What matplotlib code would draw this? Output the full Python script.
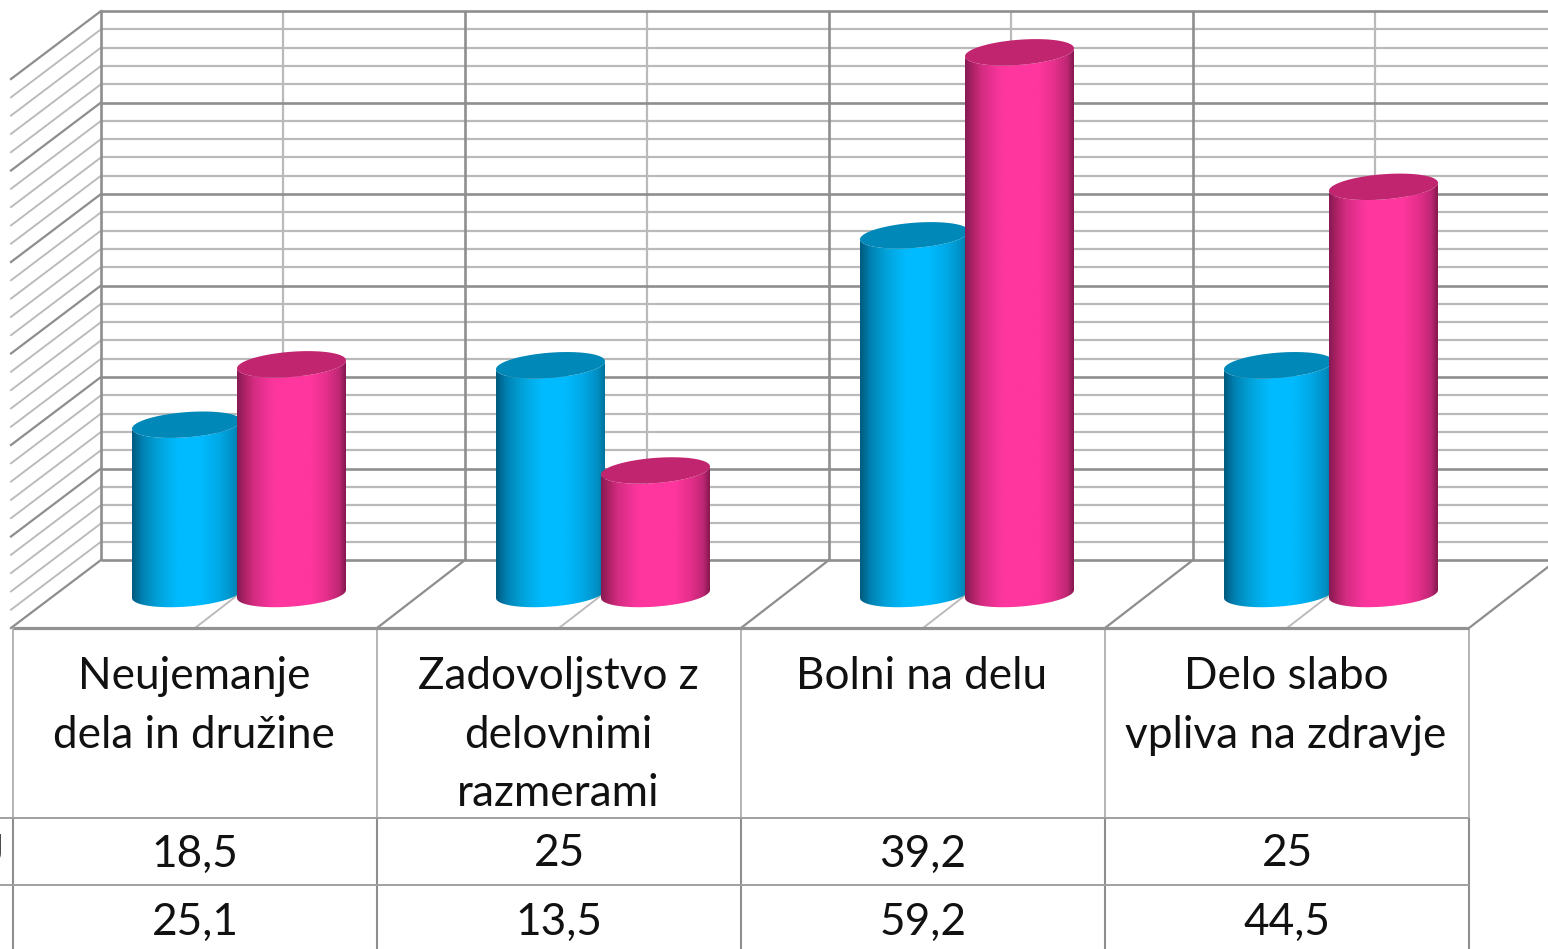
import numpy as np
import matplotlib
matplotlib.use("Agg")
import matplotlib.pyplot as plt
from matplotlib.patches import Polygon
from matplotlib.colors import LinearSegmentedColormap
from matplotlib.transforms import blended_transform_factory

# ---- data ----
categories = ["Neujemanje\ndela in družine", "Zadovoljstvo z\ndelovnimi\nrazmerami",
              "Bolni na delu", "Delo slabo\nvpliva na zdravje"]
series_blue = [18.5, 25, 39.2, 25]
series_pink = [25.1, 13.5, 59.2, 44.5]
labels_blue = ["18,5", "25", "39,2", "25"]
labels_pink = ["25,1", "13,5", "59,2", "44,5"]
value_max = 60

# ---- layout ----
W, H = 1548, 949
CAT = 364.0          # px per category
UNIT = 9.15          # px per value unit
X0 = 195.0           # px of first category centre (front plane)
Y0 = 628.0           # px of value 0 (front plane)
DX, DY = 88.0, 68.0  # depth offset in px
GRID_MAJOR, GRID_MINOR = "#8e8e8e", "#bababa"

plt.rcParams["font.family"] = ["Lato", "DejaVu Sans"]
fig = plt.figure(figsize=(W / 100, H / 100), dpi=100, facecolor="white")
ax = fig.add_axes([0, 0, 1, 1])
xlim = ((0 - X0) / CAT, (W - X0) / CAT)
ylim = ((Y0 - H) / UNIT, Y0 / UNIT)
ax.set_axis_off()

ddx, ddy = DX / CAT, DY / UNIT   # full depth in data units
n = len(categories)
fy = lambda py: 1 - py / H
ytr = blended_transform_factory(ax.transData, ax.transAxes)

# back wall horizontals and side wall diagonals
side_x = -0.5 - 2 / CAT
for v in range(0, value_max + 1, 2):
    major = v % 10 == 0
    col, lw = (GRID_MAJOR, 1.9) if major else (GRID_MINOR, 1.6)
    z = 3 if major else 2
    ax.plot([-0.5 + ddx, xlim[1]], [v + ddy, v + ddy], color=col, lw=lw, zorder=z, solid_capstyle="butt")
    ax.plot([side_x, -0.5 + ddx], [v, v + ddy], color=col, lw=lw * 0.85, zorder=z)

# back wall verticals and floor diagonals
for k in range(0, 2 * n + 1):
    xf = -0.5 + k * 0.5
    major = k % 2 == 0
    col, lw = (GRID_MAJOR, 1.9) if major else (GRID_MINOR, 1.6)
    z = 3 if major else 2
    ax.plot([xf + ddx, xf + ddx], [ddy, value_max + ddy], color=col, lw=lw, zorder=z, solid_capstyle="butt")
    if k > 0:
        ax.plot([xf, xf + ddx], [0, ddy], color=col, lw=lw * 0.85, zorder=z)

# cylinders
blue_cmap = LinearSegmentedColormap.from_list("b", [
    (0.00, "#005a7e"), (0.10, "#0083b4"), (0.25, "#00a4dc"), (0.42, "#00bbff"),
    (0.62, "#00bbff"), (0.80, "#00a8e6"), (0.93, "#008fc4"), (1.00, "#00729c")])
pink_cmap = LinearSegmentedColormap.from_list("p", [
    (0.00, "#861a54"), (0.07, "#ad2265"), (0.15, "#d22c80"), (0.30, "#f5349a"),
    (0.36, "#ff369e"), (0.68, "#ff369e"), (0.82, "#e62f8c"), (0.94, "#bd2773"), (1.00, "#85184f")])
blue_top, pink_top = "#0088b8", "#c12570"

half_w = 54.5 / CAT       # cylinder half width
tilt = 4.0 / UNIT         # ellipse tilt
rad = 12.6 / UNIT         # ellipse minor radius
grad = np.linspace(0, 1, 256).reshape(1, -1)


def cylinder(cx, value, cmap, topcol, z):
    base = ddy / 2
    top = base + value
    t_low = np.linspace(np.pi, 2 * np.pi, 80)
    t_full = np.linspace(0, 2 * np.pi, 160)
    ex = lambda t: cx + half_w * np.cos(t)
    ey = lambda t, c: c + tilt * np.cos(t) + rad * np.sin(t)
    body = np.vstack([
        np.c_[ex(t_low), ey(t_low, base)],
        np.c_[ex(t_low[::-1]), ey(t_low[::-1], top)],
    ])
    patch = Polygon(body, closed=True, transform=ax.transData, facecolor="none", edgecolor="none")
    ax.add_patch(patch)
    im = ax.imshow(grad, cmap=cmap, extent=[cx - half_w, cx + half_w, base - 3, top + 3],
                   aspect="auto", zorder=z, interpolation="bilinear")
    im.set_clip_path(patch)
    ax.add_patch(Polygon(np.c_[ex(t_full), ey(t_full, top)], closed=True, facecolor=topcol,
                         edgecolor="none", zorder=z + 0.1))


off = 52.5 / CAT
for i in range(n):
    cx = i + ddx / 2
    cylinder(cx - off, series_blue[i], blue_cmap, blue_top, 5 + i)
    cylinder(cx + off, series_pink[i], pink_cmap, pink_top, 5.5 + i)

ax.set_xlim(xlim)
ax.set_ylim(ylim)

# table frame
ax.plot([-0.5, n - 0.5], [0, 0], color="#929292", lw=2.3, zorder=20, solid_capstyle="butt")
for i in range(n + 1):
    ax.plot([i - 0.5, i - 0.5], [fy(628), fy(818)], transform=ytr, color="#a8a8a8", lw=1.2, zorder=4,
            solid_capstyle="butt")
    ax.plot([i - 0.5, i - 0.5], [fy(818), 0], transform=ytr, color="#8e8e8e", lw=1.5, zorder=4,
            solid_capstyle="butt")
for py in (818, 885):
    ax.plot([xlim[0], n - 0.5], [fy(py), fy(py)], transform=ytr, color="#a0a0a0", lw=1.4, zorder=4,
            solid_capstyle="butt")

# table text
FS = 31.8
for i, c in enumerate(categories):
    ax.text(i - 1 / CAT, fy(656), c, transform=ytr, ha="center", va="top", fontsize=FS, color="#111111",
            linespacing=1.535, zorder=30)
    ax.text(i, fy(854), labels_blue[i], transform=ytr, ha="center", va="center", fontsize=FS,
            color="#111111", zorder=30)
    ax.text(i, fy(922), labels_pink[i], transform=ytr, ha="center", va="center", fontsize=FS,
            color="#111111", zorder=30)
ax.text(-0.5 - 9 / CAT, fy(854), "U", transform=ytr, ha="right", va="center", fontsize=FS,
        color="#111111", zorder=30)

fig.savefig("out.png", dpi=100, facecolor="white")
